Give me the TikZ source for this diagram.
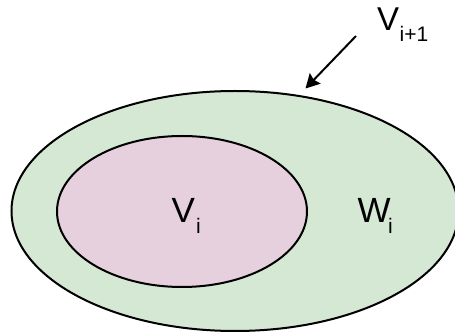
\documentclass[tikz,border=0pt]{standalone}
\usepackage{fontspec}
\setmainfont{Liberation Sans}
\usetikzlibrary{shapes.geometric,arrows.meta}
\tikzset{
  setbox/.style={ellipse, draw=black, line width=2pt, inner sep=0pt},
  lbl/.style={anchor=base west, inner sep=0pt, font=\fontsize{35}{35}\selectfont},
  sub/.style={anchor=base west, inner sep=0pt, font=\fontsize{21}{21}\selectfont},
}
\begin{document}
\begin{tikzpicture}[x=1pt,y=-1pt]
\useasboundingbox (0,0) rectangle (455,336);
\node[setbox, fill={rgb,255:red,213;green,232;blue,212}, minimum width=447pt, minimum height=240pt] (outer) at (235,211) {};
\node[setbox, fill={rgb,255:red,230;green,208;blue,222}, minimum width=250pt, minimum height=151pt] (inner) at (182,211.5) {};
\node[lbl] (vi) at (171.5,223) {V};
\node[sub] (vis) at (196,234) {i};
\node[lbl] (wi) at (357.5,223) {W};
\node[sub] (wis) at (388,234) {i};
\node[lbl, font=\fontsize{33}{33}\selectfont] (vn) at (377,31) {V};
\node[sub] (vns) at (399.5,42) {i+1};
\coordinate (as) at (356,36);
\coordinate (ae) at (305.5,88.5);
\draw[line width=2pt, -{Stealth[length=14pt, width=15pt, inset=2pt]}] (as) -- (ae);
\end{tikzpicture}
\end{document}
